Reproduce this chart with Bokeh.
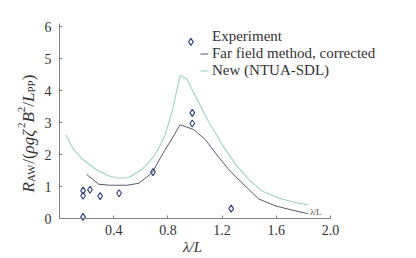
import math
from bokeh.plotting import figure
from bokeh.models import Range1d, FixedTicker, Label, Legend, LegendItem
from bokeh.core.properties import value
from bokeh.embed import file_html
from bokeh.resources import INLINE

# ---- data ----
exp_x = [0.174, 0.174, 0.174, 0.225, 0.30, 0.44, 0.69, 0.98, 0.98, 0.97, 1.267]
exp_y = [0.05, 0.71, 0.87, 0.90, 0.70, 0.79, 1.45, 2.97, 3.30, 5.52, 0.31]

ff_x = [0.20, 0.29, 0.37, 0.50, 0.585, 0.684, 0.78, 0.82, 0.89, 0.99, 1.076,
        1.15, 1.247, 1.345, 1.47, 1.59, 1.71, 1.835]
ff_y = [1.38, 1.07, 1.04, 1.04, 1.10, 1.43, 2.16, 2.42, 2.93, 2.78, 2.47,
        2.05, 1.54, 1.12, 0.61, 0.40, 0.27, 0.15]

new_x = [0.046, 0.096, 0.169, 0.267, 0.365, 0.438, 0.512, 0.61, 0.67, 0.72,
         0.78, 0.84, 0.89, 0.94, 1.0, 1.10, 1.20, 1.30, 1.394, 1.49, 1.615,
         1.74, 1.835]
new_y = [2.62, 2.21, 1.85, 1.54, 1.33, 1.26, 1.28, 1.54, 1.80, 2.10, 2.60,
         3.50, 4.48, 4.36, 3.85, 3.03, 2.31, 1.69, 1.23, 0.87, 0.64, 0.50, 0.43]

x_ticks = [0.4, 0.8, 1.2, 1.6, 2.0]
y_ticks = [0, 1, 2, 3, 4, 5, 6]
labels = ["Experiment", "Far field method, corrected", "New (NTUA-SDL)"]

SERIF = "Liberation Serif"
NAVY = "#2e3f86"
DARK = "#5a5a6e"
GREEN = "#9dd3c1"
TXT = "#333333"

W, H = 416, 258
# frame fills the whole figure; axes are pinned at x=0 / y=0 inside it
p = figure(width=W, height=H,
           x_range=Range1d(-0.4354, 2.6347), y_range=Range1d(-1.25, 6.8125),
           output_backend="svg", toolbar_location=None,
           min_border=0, min_border_left=0, min_border_right=0,
           min_border_top=0, min_border_bottom=0)
p.title.visible = False
p.xgrid.visible = False
p.ygrid.visible = False
p.outline_line_color = None
p.background_fill_color = "white"

for ax in (p.xaxis[0], p.yaxis[0]):
    ax.fixed_location = 0
    ax.axis_line_color = "#808080"
    ax.major_tick_line_color = "#808080"
    ax.major_tick_in = 3
    ax.major_tick_out = 0
    ax.minor_tick_line_color = None
    ax.major_label_text_font = SERIF
    ax.major_label_text_font_size = "14px"
    ax.major_label_text_color = TXT
p.xaxis.bounds = (0, 2.0)
p.yaxis.bounds = (0, 6.1)
p.xaxis.ticker = FixedTicker(ticks=x_ticks)
p.yaxis.ticker = FixedTicker(ticks=y_ticks)
p.xaxis.major_label_overrides = {t: f"{t:.1f}" for t in x_ticks}
p.xaxis.major_label_standoff = 6
p.yaxis.major_label_standoff = 8

r_new = p.line(new_x, new_y, line_color=GREEN, line_width=1.1)
r_ff = p.line(ff_x, ff_y, line_color=DARK, line_width=1.0)
p.scatter(exp_x, exp_y, marker="diamond", size=7, line_color=NAVY,
          fill_color=None, line_width=1.1)
r_leg_exp = p.scatter([], [], marker="circle", size=4, line_color=NAVY,
                      fill_color=None, line_width=1)

p.text(x=[1.85], y=[0.19], text=["\u03bb/L"], text_font=value(SERIF),
       text_font_size="8px", text_color=TXT, text_baseline="middle",
       text_align="left")

legend = Legend(items=[LegendItem(label=labels[0], renderers=[r_leg_exp]),
                       LegendItem(label=labels[1], renderers=[r_ff]),
                       LegendItem(label=labels[2], renderers=[r_new])],
                location=(200, 179), padding=0, margin=0, spacing=0,
                glyph_width=8, glyph_height=15, label_height=15, label_standoff=4,
                label_text_font=SERIF, label_text_font_size="15px",
                label_text_color=TXT, background_fill_alpha=0,
                border_line_alpha=0)
p.add_layout(legend, "center")

# x-axis title
p.add_layout(Label(x=192, y=H - 246, x_units="screen", y_units="screen",
                   text="\u03bb/L", text_font=SERIF, text_font_size="15px",
                   text_font_style="italic", text_color=TXT,
                   text_align="center", text_baseline="middle"))

# y-axis title with sub/superscripts, rotated
pieces = [("R", 17, "italic", 0, 0.611), ("AW", 11, "normal", 2.5, 1.666),
          ("/(", 17, "normal", 0, 0.611), ("\u03c1g\u03b6", 17, "italic", 0, 1.49),
          ("2", 11, "normal", -7, 0.5), ("B", 17, "italic", 0, 0.611),
          ("2", 11, "normal", -7, 0.5), ("/", 17, "normal", 0, 0.278),
          ("L", 17, "italic", 0, 0.556), ("PP", 11, "normal", 2.5, 1.112),
          (")", 17, "normal", 0, 0.333)]
base_x = 27.5
ypos = H - 192.0
for txt, fs, style, off, em in pieces:
    p.add_layout(Label(x=base_x + off, y=ypos, x_units="screen", y_units="screen",
                       text=txt, angle=math.pi / 2, text_font=SERIF,
                       text_font_size=f"{fs}px", text_font_style=style,
                       text_color=TXT, text_align="left",
                       text_baseline="alphabetic"))
    ypos += em * fs

open("out.html", "w").write(file_html(p, INLINE))
